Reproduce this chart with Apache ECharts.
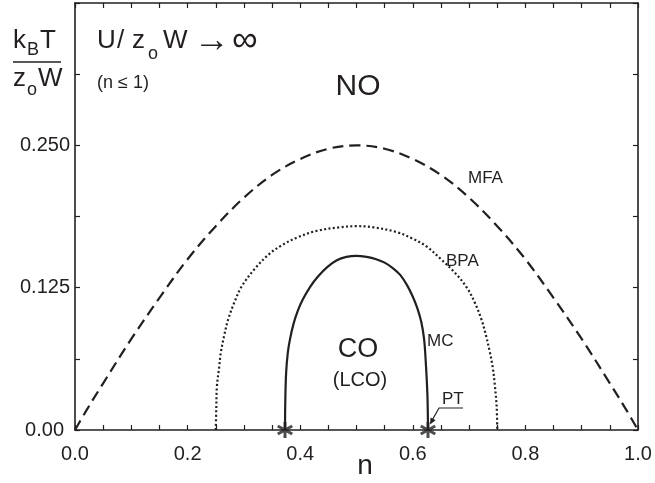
<!DOCTYPE html>
<html>
<head>
<meta charset="utf-8">
<script src="https://cdn.jsdelivr.net/npm/echarts@6/dist/echarts.min.js"></script>
<style>html,body{margin:0;padding:0;background:#fff;}#c{width:655px;height:483px;}</style>
</head>
<body>
<div id="c"></div>
<script>
// ---- data ----
const mfaN = [0, 0.02, 0.05, 0.1, 0.15, 0.2, 0.25, 0.3, 0.35, 0.4, 0.45, 0.5, 0.55, 0.6, 0.65, 0.7, 0.75, 0.8, 0.85, 0.9, 0.95, 0.98, 1.0];
const mfaT = [0, 0.017, 0.041, 0.080, 0.116, 0.150, 0.179, 0.204, 0.224, 0.238, 0.247, 0.250, 0.247, 0.238, 0.224, 0.204, 0.179, 0.150, 0.116, 0.080, 0.041, 0.017, 0];

const bpaN = [0.25, 0.251, 0.252, 0.256, 0.259, 0.265, 0.272, 0.283, 0.296, 0.32, 0.346, 0.37, 0.394, 0.43, 0.47, 0.5, 0.53, 0.57, 0.6, 0.625, 0.65, 0.675, 0.696, 0.71, 0.722, 0.73, 0.737, 0.742, 0.746, 0.749, 0.75];
const bpaT = [0, 0.02, 0.038, 0.055, 0.068, 0.083, 0.097, 0.112, 0.126, 0.142, 0.155, 0.163, 0.169, 0.175, 0.178, 0.179, 0.178, 0.174, 0.168, 0.161, 0.150, 0.138, 0.125, 0.112, 0.097, 0.083, 0.068, 0.055, 0.038, 0.02, 0];

const mcN = [0.373, 0.3735, 0.375, 0.378, 0.382, 0.388, 0.396, 0.405, 0.418, 0.432, 0.448, 0.465, 0.482, 0.5, 0.518, 0.535, 0.55, 0.565, 0.578, 0.59, 0.6, 0.608, 0.615, 0.62, 0.623, 0.626, 0.627];
const mcT = [0, 0.025, 0.05, 0.068, 0.08, 0.093, 0.105, 0.115, 0.126, 0.135, 0.143, 0.149, 0.152, 0.153, 0.152, 0.15, 0.147, 0.142, 0.136, 0.127, 0.117, 0.107, 0.095, 0.08, 0.06, 0.03, 0];

const ptN = [0.373, 0.627];
const ptT = [0, 0];

const xTickLabels = ['0.0', '0.2', '0.4', '0.6', '0.8', '1.0'];
const yTickLabels = ['0.00', '0.125', '0.250', ''];

// ---- chart ----
const INK = '#231f20';
const FONT = '"Liberation Sans", Arial, sans-serif';
const zip = (a, b) => a.map((v, i) => [v, b[i]]);

// asterisk symbol (6 arms)
function asteriskPath() {
  const L = 1, w = 0.18, pts = [];
  for (let k = 0; k < 6; k++) {
    const th = (90 + 60 * k) * Math.PI / 180;
    const d = [Math.cos(th), Math.sin(th)];
    const p = [-Math.sin(th), Math.cos(th)];
    pts.push([d[0] * L - p[0] * w, d[1] * L - p[1] * w]);
    pts.push([d[0] * L + p[0] * w, d[1] * L + p[1] * w]);
    const tb = th + 30 * Math.PI / 180;
    pts.push([Math.cos(tb) * 2 * w, Math.sin(tb) * 2 * w]);
  }
  return 'path://' + pts.map((q, i) => (i ? 'L' : 'M') + (q[0] * 10).toFixed(3) + ' ' + (-q[1] * 10).toFixed(3)).join(' ') + ' Z';
}

const near = (v, step) => Math.abs(v / step - Math.round(v / step)) < 1e-6;

const axisCommon = {
  axisLine: { show: true, onZero: false, lineStyle: { color: INK, width: 1.6 } },
  axisTick: { show: true, inside: true, length: 5, lineStyle: { color: INK, width: 1.2 } },
  splitLine: { show: false }
};

const chart = echarts.init(document.getElementById('c'), null, { renderer: 'canvas' });

// y given as the visual middle of the text
const txt = (text, x, y, size, align) => ({
  type: 'text', x: x, y: y, silent: true,
  style: { text: text, fill: INK, font: size + 'px ' + FONT, align: align || 'left', verticalAlign: 'middle' }
});

const option = {
  animation: false,
  backgroundColor: '#fff',
  grid: { left: 75, right: 17, top: 3, bottom: 53 },
  xAxis: [
    Object.assign({}, axisCommon, {
      type: 'value', min: 0, max: 1, interval: 0.05, position: 'bottom',
      axisLabel: {
        show: true, color: INK, fontSize: 20, fontFamily: FONT, margin: 14, showMinLabel: true, showMaxLabel: true,
        formatter: v => near(v, 0.2) ? xTickLabels[Math.round(v / 0.2)] : ''
      }
    }),
    Object.assign({}, axisCommon, {
      type: 'value', min: 0, max: 1, interval: 0.05, position: 'top',
      axisLabel: { show: false }
    })
  ],
  yAxis: [
    Object.assign({}, axisCommon, {
      type: 'value', min: 0, max: 0.375, interval: 0.0625, position: 'left',
      axisLabel: {
        show: true, color: INK, fontSize: 20, fontFamily: FONT, margin: 5,
        formatter: v => {
          if (!near(v, 0.125)) return '';
          const i = Math.round(v / 0.125);
          return i === 0 ? '{z|' + yTickLabels[i] + '}' : yTickLabels[i];
        },
        rich: { z: { color: INK, fontSize: 20, fontFamily: FONT, padding: [0, 6, 0, 0] } }
      }
    }),
    Object.assign({}, axisCommon, {
      type: 'value', min: 0, max: 0.375, interval: 0.0625, position: 'right',
      axisLabel: { show: false }
    })
  ],
  series: [
    {
      name: 'MFA', type: 'line', data: zip(mfaN, mfaT), smooth: 0.35, symbol: 'none',
      lineStyle: { color: INK, width: 2.2, type: [11, 6] }
    },
    {
      name: 'BPA', type: 'line', data: zip(bpaN, bpaT), smooth: 0.35, symbol: 'none',
      lineStyle: { color: INK, width: 2.2, type: [2, 2.4] }
    },
    {
      name: 'MC', type: 'line', data: zip(mcN, mcT), smooth: 0.35, symbol: 'none',
      lineStyle: { color: INK, width: 2.2, type: 'solid' }
    },
    {
      name: 'PT', type: 'scatter', data: zip(ptN, ptT), symbol: asteriskPath(), symbolSize: 16,
      itemStyle: { color: INK }, z: 5, clip: false
    }
  ],
  graphic: [
    // y-axis label as a fraction k_B T / z_o W
    txt('k', 13, 41, 26), txt('B', 27, 50, 18), txt('T', 40, 41, 26),
    { type: 'line', silent: true, shape: { x1: 13, y1: 62, x2: 61, y2: 62 }, style: { stroke: INK, lineWidth: 1.6 } },
    txt('z', 13, 79, 26), txt('o', 27, 90, 18), txt('W', 38, 79, 26),
    // U/z_oW -> infinity
    txt('U', 97, 41, 26), txt('/', 117, 41, 26), txt('z', 132, 41, 26), txt('o', 148, 54, 18), txt('W', 163, 41, 26),
    txt('\u2192', 194, 41, 36), txt('\u221E', 232, 41, 36),
    txt('(n \u2264 1)', 97, 83, 18),
    // region labels
    txt('NO', 358, 86.5, 30, 'center'),
    txt('CO', 358, 349.5, 27, 'center'),
    txt('(LCO)', 360, 380, 20, 'center'),
    // curve labels
    txt('MFA', 468, 178.5, 17), txt('BPA', 446, 261.5, 17), txt('MC', 427, 341.5, 17),
    txt('PT', 442, 399, 17),
    { type: 'polyline', silent: true, shape: { points: [[463, 408], [439, 408], [432.5, 419.5]] }, style: { stroke: INK, fill: null, lineWidth: 1.2 } },
    { type: 'polygon', silent: true, shape: { points: [[430, 424.5], [435.6, 420.2], [430.6, 417.4]] }, style: { fill: INK } },
    // x-axis name
    txt('n', 365, 466, 28, 'center')
  ]
};
chart.setOption(option);
</script>
</body>
</html>
